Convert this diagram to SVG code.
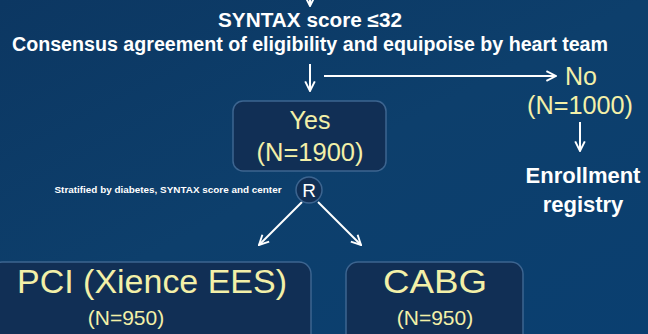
<svg xmlns="http://www.w3.org/2000/svg" width="648" height="334" viewBox="0 0 648 334">
<defs>
<linearGradient id="bg" x1="0" y1="0" x2="1" y2="1">
<stop offset="0" stop-color="#0c3762"/>
<stop offset="0.5" stop-color="#0d3f6c"/>
<stop offset="1" stop-color="#0a3f70"/>
</linearGradient>
<marker id="ah2" viewBox="0 0 10 10" refX="9" refY="5" markerWidth="12" markerHeight="12" markerUnits="userSpaceOnUse" orient="auto">
<path d="M1,1 L9,5 L1,9" fill="none" stroke="#ffffff" stroke-width="1.6"/>
</marker>
</defs>
<style>
.w{fill:#ffffff;font-family:"Liberation Sans",Arial,sans-serif;font-weight:bold;}
.r{fill:#ffffff;font-family:"Liberation Sans",Arial,sans-serif;}
.y{fill:#f3f0a8;font-family:"Liberation Sans",Arial,sans-serif;}
.box{fill:#112f55;stroke:#3d6590;stroke-width:1.5;}
.ln{stroke:#ffffff;stroke-width:2;fill:none;}
</style>
<rect width="648" height="334" fill="url(#bg)"/>
<g id="header">
<text class="w" x="310" y="27" font-size="20" text-anchor="middle" textLength="184" lengthAdjust="spacingAndGlyphs">SYNTAX score ≤32</text>
<text class="w" x="310" y="51" font-size="20" text-anchor="middle" textLength="596" lengthAdjust="spacingAndGlyphs">Consensus agreement of eligibility and equipoise by heart team</text>
</g>
<g id="connectors">
<line class="ln" x1="310" y1="-6" x2="310" y2="6" marker-end="url(#ah2)"/>
<line class="ln" x1="310" y1="64" x2="310" y2="91" marker-end="url(#ah2)"/>
<line class="ln" x1="324" y1="76" x2="556" y2="76" marker-end="url(#ah2)"/>
<line class="ln" x1="580" y1="122" x2="580" y2="151" marker-end="url(#ah2)"/>
<line class="ln" x1="302" y1="202" x2="259" y2="245" marker-end="url(#ah2)"/>
<line class="ln" x1="318" y1="202" x2="361" y2="245" marker-end="url(#ah2)"/>
</g>
<g id="no">
<text class="y" x="581" y="85" font-size="25" text-anchor="middle">No</text>
<text class="y" x="580" y="114" font-size="25" text-anchor="middle" textLength="106" lengthAdjust="spacingAndGlyphs">(N=1000)</text>
</g>
<g id="registry">
<text class="w" x="583" y="183" font-size="22" text-anchor="middle">Enrollment</text>
<text class="w" x="583" y="212" font-size="22" text-anchor="middle">registry</text>
</g>
<g id="yes">
<rect class="box" x="233" y="101" width="153" height="70" rx="10"/>
<text class="y" x="310" y="129" font-size="25" text-anchor="middle">Yes</text>
<text class="y" x="310" y="161" font-size="25" text-anchor="middle" textLength="107" lengthAdjust="spacingAndGlyphs">(N=1900)</text>
</g>
<g id="randomize">
<text class="w" x="168" y="193" font-size="8.5" text-anchor="middle" textLength="227" lengthAdjust="spacingAndGlyphs">Stratified by diabetes, SYNTAX score and center</text>
<circle cx="309" cy="190" r="13" fill="#112f55" stroke="#3d6590" stroke-width="1.5"/>
<text class="r" x="309" y="197" font-size="19" text-anchor="middle">R</text>
</g>
<g id="pci">
<rect class="box" x="-10" y="262" width="321" height="90" rx="12"/>
<text class="y" x="152" y="293" font-size="33" text-anchor="middle" textLength="270" lengthAdjust="spacingAndGlyphs">PCI (Xience EES)</text>
<text class="y" x="126" y="325" font-size="21" text-anchor="middle">(N=950)</text>
</g>
<g id="cabg">
<rect class="box" x="346" y="262" width="177" height="90" rx="12"/>
<text class="y" x="435" y="293" font-size="33" text-anchor="middle" textLength="104" lengthAdjust="spacingAndGlyphs">CABG</text>
<text class="y" x="435" y="325" font-size="21" text-anchor="middle">(N=950)</text>
</g>
</svg>
